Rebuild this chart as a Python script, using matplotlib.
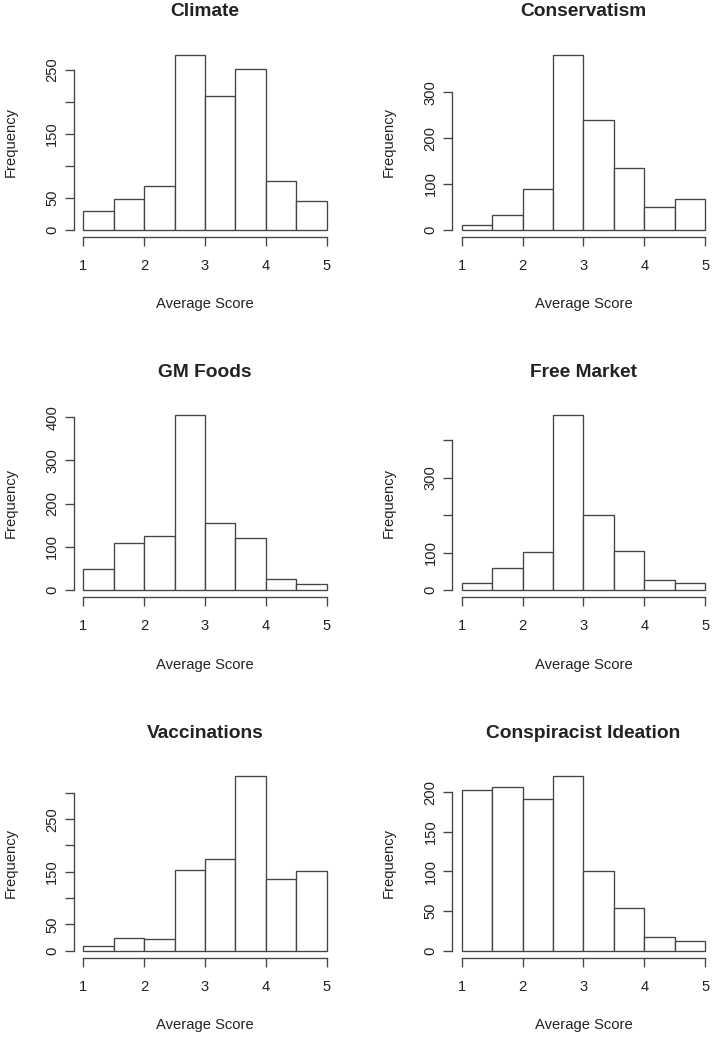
import matplotlib
matplotlib.use("Agg")
import matplotlib.pyplot as plt

plt.rcParams['font.family'] = ['Liberation Sans', 'DejaVu Sans']

# ---- data ----
bin_edges = [1.0, 1.5, 2.0, 2.5, 3.0, 3.5, 4.0, 4.5, 5.0]
titles = ["Climate", "Conservatism", "GM Foods", "Free Market",
          "Vaccinations", "Conspiracist Ideation"]
climate = [30, 48, 69, 274, 209, 252, 76, 45]
conservatism = [10, 32, 90, 383, 239, 134, 49, 67]
gm_foods = [50, 108, 126, 405, 156, 120, 25, 14]
free_market = [20, 60, 101, 468, 200, 105, 26, 20]
vaccinations = [8, 24, 22, 154, 174, 333, 136, 152]
conspiracist = [203, 206, 191, 221, 100, 54, 17, 12]
counts = [climate, conservatism, gm_foods, free_market, vaccinations, conspiracist]

y_ticks = [
    [0, 50, 100, 150, 200, 250],
    [0, 100, 200, 300],
    [0, 100, 200, 300, 400],
    [0, 100, 200, 300, 400],
    [0, 50, 100, 150, 200, 250, 300],
    [0, 50, 100, 150, 200],
]
y_labels = [
    ["0", "50", "", "150", "", "250"],
    ["0", "100", "200", "300"],
    ["0", "100", "200", "300", "400"],
    ["0", "100", "", "300", ""],
    ["0", "50", "", "150", "", "250", ""],
    ["0", "50", "100", "150", "200"],
]
x_ticks = [1, 2, 3, 4, 5]
x_label = "Average Score"
y_label = "Frequency"

# ---- layout (pixels) ----
W, H = 713, 1037
fig = plt.figure(figsize=(W / 100, H / 100), dpi=100)

col_left = [73.6, 452.0]
row_top = [47.5, 408.0, 768.5]
ax_w, ax_h = 262.8, 189.2
line_col = "#444444"
text_col = "#222222"

for i in range(6):
    r, c = divmod(i, 2)
    x0, y0 = col_left[c], row_top[r]
    ax = fig.add_axes([x0 / W, 1 - (y0 + ax_h) / H, ax_w / W, ax_h / H])
    ymax = max(counts[i])
    ax.bar(bin_edges[:-1], counts[i], width=0.5, align='edge',
           facecolor='white', edgecolor=line_col, linewidth=0.95)
    ax.set_xlim(0.84, 5.16)
    ax.set_ylim(-0.04 * ymax, 1.04 * ymax)
    for s in ('top', 'right'):
        ax.spines[s].set_visible(False)
    for s in ('left', 'bottom'):
        ax.spines[s].set_color(line_col)
        ax.spines[s].set_linewidth(0.95)
    ax.spines['left'].set_bounds(0, y_ticks[i][-1])
    ax.spines['bottom'].set_bounds(1, 5)
    ax.set_xticks(x_ticks)
    ax.set_xticklabels([str(t) for t in x_ticks])
    ax.set_yticks(y_ticks[i])
    ax.set_yticklabels(y_labels[i], rotation=90, va='center')
    ax.tick_params(axis='both', direction='out', length=6.3, width=0.95,
                   color=line_col, labelsize=10.6, labelcolor=text_col)
    ax.tick_params(axis='x', pad=9.5)
    ax.tick_params(axis='y', pad=4)
    ax.patch.set_alpha(0)

    cx = x0 + ax_w / 2
    axis_y = y0 + ax_h
    fig.text(cx / W, 1 - (y0 - 35.5) / H, titles[i], ha='center', va='center',
             fontsize=13.8, fontweight='bold', color=text_col)
    fig.text(cx / W, 1 - (axis_y + 67.5) / H, x_label, ha='center', va='center',
             fontsize=10.6, color=text_col)
    fig.text((x0 - 63) / W, 1 - (y0 + ax_h / 2) / H, y_label, ha='center',
             va='center', rotation=90, fontsize=10.6, color=text_col)

fig.savefig("out.png", dpi=100, facecolor='white')
